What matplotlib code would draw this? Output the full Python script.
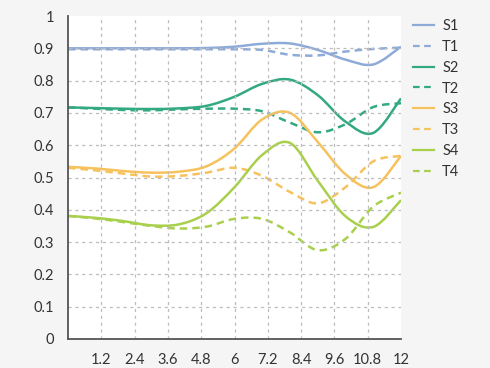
import numpy as np
import matplotlib
matplotlib.use('Agg')
import matplotlib.pyplot as plt
from matplotlib.path import Path
from matplotlib.patches import PathPatch
from matplotlib.lines import Line2D

plt.rcParams['font.family'] = ['Lato', 'DejaVu Sans']

# data (x = 0..12)
x = [0, 1, 2, 3, 4, 5, 6, 7, 8, 9, 10, 11, 12]
s1 = [0.90, 0.90, 0.90, 0.90, 0.90, 0.901, 0.905, 0.914, 0.915, 0.895, 0.865, 0.85, 0.905]
t1 = [0.897, 0.897, 0.897, 0.897, 0.897, 0.897, 0.897, 0.895, 0.88, 0.878, 0.89, 0.898, 0.902]
s2 = [0.717, 0.715, 0.713, 0.712, 0.714, 0.722, 0.75, 0.79, 0.803, 0.755, 0.673, 0.638, 0.745]
t2 = [0.717, 0.713, 0.709, 0.708, 0.711, 0.713, 0.713, 0.705, 0.67, 0.64, 0.665, 0.718, 0.73]
s3 = [0.533, 0.528, 0.52, 0.515, 0.518, 0.535, 0.59, 0.68, 0.70, 0.61, 0.51, 0.47, 0.567]
t3 = [0.53, 0.522, 0.512, 0.503, 0.505, 0.515, 0.53, 0.505, 0.455, 0.42, 0.47, 0.55, 0.567]
s4 = [0.381, 0.375, 0.365, 0.352, 0.355, 0.39, 0.47, 0.57, 0.607, 0.49, 0.38, 0.347, 0.43]
t4 = [0.381, 0.373, 0.362, 0.35, 0.342, 0.348, 0.372, 0.372, 0.33, 0.275, 0.31, 0.41, 0.453]

names = ['S1', 'T1', 'S2', 'T2', 'S3', 'T3', 'S4', 'T4']
series = [s1, t1, s2, t2, s3, t3, s4, t4]
colors = ['#8eaad9', '#8eaad9', '#33a983', '#33a983', '#f6c25e', '#f6c25e', '#a9d04c', '#a9d04c']
styles = ['-', '--', '-', '--', '-', '--', '-', '--']

xticks = [1.2, 2.4, 3.6, 4.8, 6, 7.2, 8.4, 9.6, 10.8, 12]
yticks = [0, 0.1, 0.2, 0.3, 0.4, 0.5, 0.6, 0.7, 0.8, 0.9, 1]
ylabels = ['0', '0.1', '0.2', '0.3', '0.4', '0.5', '0.6', '0.7', '0.8', '0.9', '1']


def smooth_path(xs, ys):
    # catmull-rom turned into cubic bezier segments
    p = np.column_stack([xs, ys]).astype(float)
    pts = np.vstack([p[0], p, p[-1]])
    verts = [p[0]]
    codes = [Path.MOVETO]
    for i in range(1, len(pts) - 2):
        c1 = pts[i] + (pts[i + 1] - pts[i - 1]) / 6
        c2 = pts[i + 1] - (pts[i + 2] - pts[i]) / 6
        verts += [c1, c2, pts[i + 1]]
        codes += [Path.CURVE4] * 3
    return Path(verts, codes)


fig = plt.figure(figsize=(4.9, 3.68), dpi=100, facecolor='#f5f5f5')
ax = fig.add_axes([68 / 490, 1 - 339 / 368, 333 / 490, 323 / 368])
ax.set_facecolor('white')

handles = []
for name, ys, c, ls in zip(names, series, colors, styles):
    dash = (0, (3, 2)) if ls == '--' else '-'
    patch = PathPatch(smooth_path(x, ys), fill=False, edgecolor=c, lw=1.8,
                      linestyle=dash, capstyle='butt')
    ax.add_patch(patch)
    handles.append(Line2D([], [], color=c, lw=1.6, linestyle=dash))

ax.set_xlim(0, 12)
ax.set_ylim(0, 1)
ax.set_xticks(xticks)
ax.set_xticklabels(['1.2', '2.4', '3.6', '4.8', '6', '7.2', '8.4', '9.6', '10.8', '12'])
ax.set_yticks(yticks)
ax.set_yticklabels(ylabels)
ax.tick_params(length=0, labelsize=10.5, labelcolor='#333333', pad=10)
ax.grid(True, color='#bdbdbd', lw=0.9, linestyle=(0, (2.5, 3)))
ax.xaxis.get_gridlines()[-1].set_visible(False)
ax.yaxis.get_gridlines()[-1].set_visible(False)
for sp in ['top', 'right']:
    ax.spines[sp].set_visible(False)
for sp in ['left', 'bottom']:
    ax.spines[sp].set_color('#555555')
    ax.spines[sp].set_linewidth(1.3)

fig.legend(handles, names, loc='upper left', bbox_to_anchor=(413 / 490, 1 - 19 / 368),
           frameon=False, borderpad=0, borderaxespad=0, handlelength=1.45,
           handletextpad=0.55, labelspacing=0.47, fontsize=10.5, labelcolor='#333333')

fig.savefig('out.png', dpi=100, facecolor=fig.get_facecolor())
